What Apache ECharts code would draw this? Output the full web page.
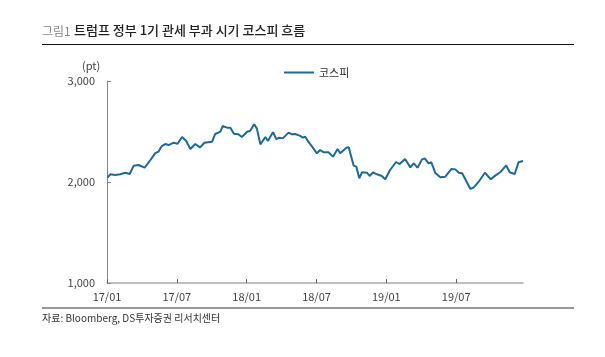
<!DOCTYPE html>
<html><head><meta charset="utf-8">
<script src="https://cdn.jsdelivr.net/npm/echarts@6/dist/echarts.min.js"></script>
<style>html,body{margin:0;padding:0;background:#fff}#c{width:605px;height:357px}</style>
</head><body><div id="c"></div>
<script>
const dates = ['2017-01-02','2017-01-10','2017-01-23','2017-02-05','2017-02-17','2017-02-28','2017-03-10','2017-03-23','2017-04-08','2017-04-23','2017-05-05','2017-05-14','2017-05-23','2017-06-01','2017-06-10','2017-06-23','2017-07-03','2017-07-15','2017-07-26','2017-08-06','2017-08-19','2017-09-01','2017-09-12','2017-10-02','2017-10-10','2017-10-24','2017-10-30','2017-11-10','2017-11-19','2017-11-28','2017-12-10','2017-12-19','2017-12-28',
'2018-01-02','2018-01-10','2018-01-21','2018-01-28','2018-02-06','2018-02-18','2018-02-24','2018-03-09','2018-03-18','2018-03-26','2018-04-04','2018-04-19','2018-04-28','2018-05-06','2018-05-18','2018-05-27','2018-06-02','2018-06-10','2018-06-23','2018-07-02','2018-07-11','2018-07-20','2018-08-02','2018-08-14','2018-08-26','2018-09-02','2018-09-18','2018-09-24','2018-10-07','2018-10-14','2018-10-22','2018-10-29','2018-11-11','2018-11-18','2018-11-27','2018-12-07','2018-12-20','2018-12-29',
'2019-01-03','2019-01-11','2019-01-27','2019-02-05','2019-02-18','2019-03-03','2019-03-12','2019-03-22','2019-04-03','2019-04-10','2019-04-20','2019-04-27','2019-05-08','2019-05-21','2019-06-03','2019-06-19','2019-06-29','2019-07-08','2019-07-17','2019-08-08','2019-08-17','2019-08-30','2019-09-15','2019-09-30','2019-10-12','2019-10-27','2019-11-10','2019-11-19','2019-12-02','2019-12-12','2019-12-24'];
const kospi = [2045,2076,2070,2076,2092,2080,2162,2168,2142,2218,2284,2300,2356,2376,2366,2389,2379,2446,2406,2327,2376,2343,2389,2399,2475,2498,2554,2538,2538,2478,2472,2446,2478,
2498,2505,2571,2531,2373,2446,2406,2492,2426,2439,2432,2489,2472,2475,2459,2439,2449,2399,2333,2284,2317,2294,2294,2251,2327,2284,2340,2343,2162,2152,2036,2096,2092,2060,2096,2076,2060,2027,
2014,2119,2198,2178,2228,2145,2185,2142,2224,2234,2185,2195,2086,2046,2053,2129,2125,2092,2086,1931,1947,2003,2092,2027,2063,2102,2165,2096,2079,2195,2208];
const xTickLabels = ['17/01','17/07','18/01','18/07','19/01','19/07'];
const yTicks = [1000,2000,3000];

function monthOffset(s){
  const [y,m,d] = s.split('-').map(Number);
  const dim = new Date(Date.UTC(y,m,0)).getUTCDate();
  return (y-2017)*12 + (m-1) + (d-1)/dim;
}
const data = dates.map((d,i)=>[monthOffset(d), kospi[i]]);
const xMax = monthOffset(dates[dates.length-1]);

const chart = echarts.init(document.getElementById('c'), null, {renderer:'canvas'});
const FONT = '"Noto Sans CJK KR","Noto Sans",sans-serif';
chart.setOption({
  animation:false,
  backgroundColor:'#fff',
  grid:{left:107,right:82,top:81,bottom:74,containLabel:false},
  legend:{
    data:[{name:'코스피',icon:'rect'}],
    left:279, top:62, itemWidth:30, itemHeight:2, itemGap:3,
    textStyle:{fontFamily:FONT,fontSize:11,color:'#333'}
  },
  xAxis:{
    type:'value', min:0, max:xMax, interval:6,
    axisLine:{show:true,lineStyle:{color:'#aaa',width:1.5}},
    axisTick:{show:true,inside:true,length:4,lineStyle:{color:'#666'}},
    splitLine:{show:false},
    axisLabel:{fontFamily:FONT,fontSize:11,color:'#444',margin:8,showMaxLabel:false,
      formatter:v=>xTickLabels[Math.round(v/6)]||''}
  },
  yAxis:{
    type:'value', min:1000, max:3000, interval:1000,
    axisLine:{show:true,lineStyle:{color:'#888',width:1}},
    axisTick:{show:true,inside:true,length:4,lineStyle:{color:'#888'}},
    splitLine:{show:false},
    axisLabel:{fontFamily:FONT,fontSize:11,color:'#444',margin:12,
      formatter:v=>yTicks.includes(v)?v.toLocaleString('en-US'):''}
  },
  series:[{
    name:'코스피', type:'line', data:data, showSymbol:false, symbol:'none',
    lineStyle:{color:'#1f6a93',width:2}, itemStyle:{color:'#1f6a93'}
  }],
  graphic:[
    {type:'text',left:42,top:25,style:{text:'그림1',fontFamily:FONT,fontSize:12,fill:'#888'}},
    {type:'text',left:74,top:24,style:{text:'트럼프 정부 1기 관세 부과 시기 코스피 흐름',fontFamily:FONT,fontSize:13,fontWeight:500,fill:'#222'}},
    {type:'line',shape:{x1:42,y1:44.5,x2:574,y2:44.5},style:{stroke:'#111',lineWidth:1}},
    {type:'line',shape:{x1:42,y1:308,x2:574,y2:308},style:{stroke:'#333',lineWidth:1}},
    {type:'text',left:82,top:60,style:{text:'(pt)',fontFamily:FONT,fontSize:11,fill:'#444'}},
    {type:'text',left:42,top:313,style:{text:'자료: Bloomberg, DS투자증권 리서치센터',fontFamily:FONT,fontSize:10,fill:'#333'}}
  ]
});
</script></body></html>
